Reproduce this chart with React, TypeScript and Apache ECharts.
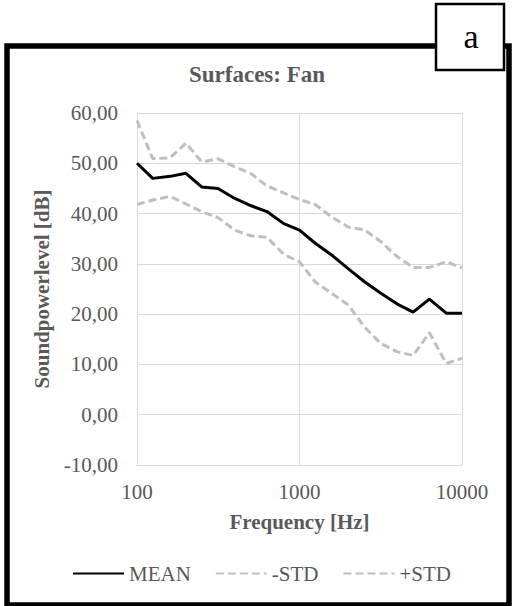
import React, { useEffect, useRef } from "react";
import * as echarts from "echarts";

const FREQS = [100, 125, 160, 200, 250, 315, 400, 500, 630, 800, 1000, 1250, 1600, 2000, 2500, 3150, 4000, 5000, 6300, 8000, 10000];
const MEAN = [50.0, 47.0, 47.4, 48.0, 45.3, 45.0, 43.0, 41.6, 40.4, 38.0, 36.7, 34.1, 31.6, 29.0, 26.5, 24.2, 22.0, 20.4, 23.0, 20.2, 20.2];
const MINUS_STD = [41.8, 42.7, 43.4, 41.9, 40.4, 39.2, 36.7, 35.6, 35.3, 31.9, 30.4, 26.4, 24.0, 21.8, 17.5, 14.2, 12.5, 11.8, 16.3, 10.2, 11.2];
const PLUS_STD = [58.5, 50.9, 51.1, 54.0, 50.3, 50.9, 49.3, 48.0, 45.5, 44.1, 42.8, 41.8, 39.2, 37.3, 36.8, 34.5, 31.4, 29.3, 29.3, 30.4, 29.2];
const SERIES_NAMES = ["MEAN", "-STD", "+STD"];
const Y_MIN = -10;
const Y_MAX = 60;
const Y_STEP = 10;
const X_MIN = 100;
const X_MAX = 10000;
const TITLE = "Surfaces: Fan";
const X_NAME = "Frequency [Hz]";
const Y_NAME = "Soundpowerlevel [dB]";
const PANEL_LABEL = "a";

const FONT = "Liberation Serif";
const TXT = "#595959";
const GRID = "#d9d9d9";
const DASH = "#bfbfbf";

const pairs = (vals: number[]) => FREQS.map((f, i) => [f, vals[i]]);

export default function App() {
  const ref = useRef<HTMLDivElement>(null);
  useEffect(() => {
    document.body.style.margin = "0";
    const chart = echarts.init(ref.current!, null, { renderer: "svg" });
    chart.setOption({
      animation: false,
      textStyle: { fontFamily: FONT },
      title: {
        text: TITLE,
        left: 189,
        top: 63,
        padding: 0,
        textStyle: { fontFamily: FONT, fontSize: 23, fontWeight: "bold", color: TXT },
      },
      legend: {
        data: SERIES_NAMES,
        left: 72,
        top: 563,
        padding: 0,
        itemWidth: 51,
        itemHeight: 14,
        itemGap: 24,
        selectedMode: false,
        itemStyle: { opacity: 0 },
        textStyle: { fontFamily: FONT, fontSize: 21, color: TXT },
      },
      grid: { left: 137, top: 113, width: 325, height: 352, containLabel: false },
      xAxis: {
        type: "log",
        logBase: 10,
        min: X_MIN,
        max: X_MAX,
        name: X_NAME,
        nameLocation: "middle",
        nameGap: 46,
        nameTextStyle: { fontFamily: FONT, fontSize: 21, fontWeight: "bold", color: TXT },
        axisLine: { show: true, onZero: false, lineStyle: { color: GRID, width: 1 } },
        axisTick: { show: false },
        minorTick: { show: false },
        splitLine: { show: true, lineStyle: { color: GRID, width: 1 } },
        axisLabel: {
          fontFamily: FONT,
          fontSize: 21,
          color: TXT,
          margin: 16,
          formatter: (v: number) => String(Math.round(v)),
        },
      },
      yAxis: {
        type: "value",
        min: Y_MIN,
        max: Y_MAX,
        interval: Y_STEP,
        name: Y_NAME,
        nameLocation: "middle",
        nameGap: 82,
        nameTextStyle: { fontFamily: FONT, fontSize: 21, fontWeight: "bold", color: TXT },
        axisLine: { show: true, lineStyle: { color: GRID, width: 1 } },
        axisTick: { show: false },
        splitLine: { show: true, lineStyle: { color: GRID, width: 1 } },
        axisLabel: {
          fontFamily: FONT,
          fontSize: 21,
          color: TXT,
          margin: 19,
          formatter: (v: number) => v.toFixed(2).replace(".", ","),
        },
      },
      series: [
        {
          name: SERIES_NAMES[0],
          type: "line",
          data: pairs(MEAN),
          symbol: "none",
          silent: true,
          z: 5,
          lineStyle: { color: "#000000", width: 3 },
          itemStyle: { color: "#000000" },
        },
        {
          name: SERIES_NAMES[1],
          type: "line",
          data: pairs(MINUS_STD),
          symbol: "none",
          silent: true,
          lineStyle: { color: DASH, width: 3, type: [8, 4] },
          itemStyle: { color: DASH },
        },
        {
          name: SERIES_NAMES[2],
          type: "line",
          data: pairs(PLUS_STD),
          symbol: "none",
          silent: true,
          lineStyle: { color: DASH, width: 3, type: [8, 4] },
          itemStyle: { color: DASH },
        },
      ],
      graphic: [
        {
          type: "rect",
          z: 100,
          silent: true,
          shape: { x: 7, y: 46, width: 502, height: 559 },
          style: { fill: "none", stroke: "#000000", lineWidth: 5.5 },
        },
        {
          type: "rect",
          z: 101,
          silent: true,
          shape: { x: 436, y: 4, width: 68, height: 66 },
          style: { fill: "#ffffff", stroke: "#000000", lineWidth: 2.5 },
        },
        {
          type: "text",
          z: 102,
          silent: true,
          x: 471,
          y: 36.5,
          style: {
            text: PANEL_LABEL,
            fontFamily: FONT,
            fontSize: 34,
            fill: "#000000",
            align: "center",
            verticalAlign: "middle",
          },
        },
      ],
    });
    return () => chart.dispose();
  }, []);
  return <div ref={ref} style={{ width: 512, height: 606 }} />;
}
